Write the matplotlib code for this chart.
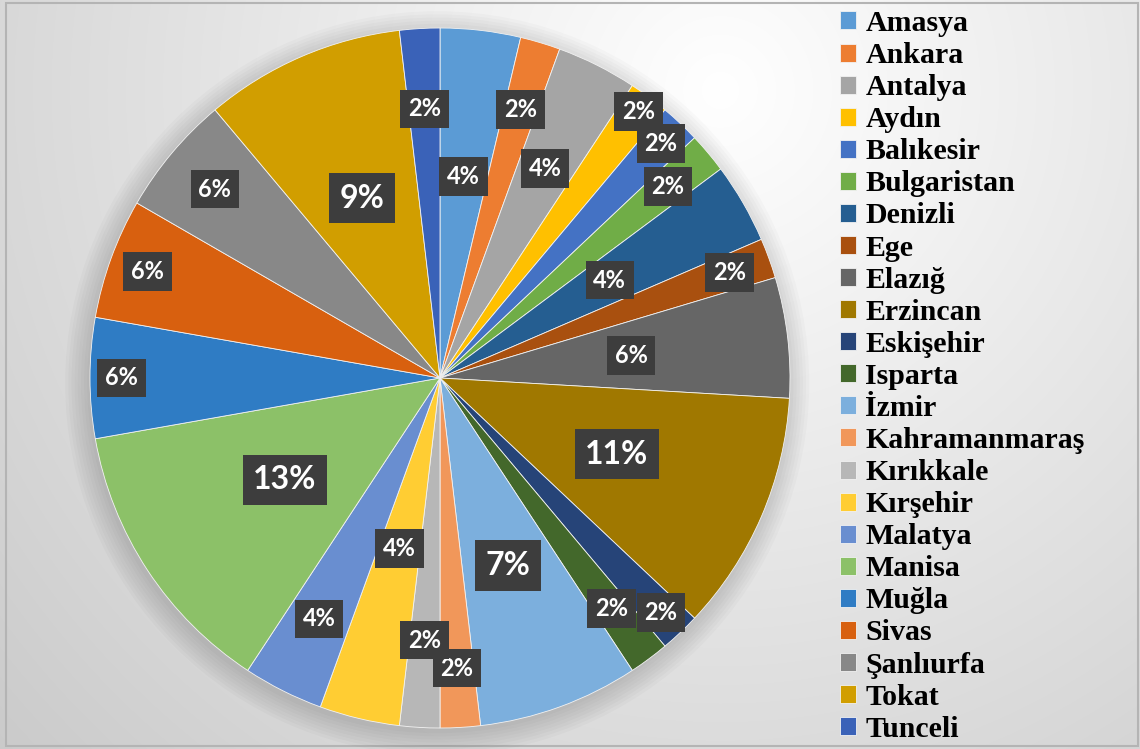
import numpy as np
import matplotlib.pyplot as plt
from matplotlib.patches import Rectangle, Circle

# data (counts, total 54)
names = ['Amasya', 'Ankara', 'Antalya', 'Aydın', 'Balıkesir', 'Bulgaristan',
         'Denizli', 'Ege', 'Elazığ', 'Erzincan', 'Eskişehir', 'Isparta',
         'İzmir', 'Kahramanmaraş', 'Kırıkkale', 'Kırşehir', 'Malatya',
         'Manisa', 'Muğla', 'Sivas', 'Şanlıurfa', 'Tokat', 'Tunceli']
counts = [2, 1, 2, 1, 1, 1, 2, 1, 3, 6, 1, 1, 4, 1, 1, 2, 2, 7, 3, 3, 3, 5, 1]

colors = ['#5B9BD5', '#ED7D31', '#A5A5A5', '#FFC000', '#4472C4', '#70AD47',
          '#255E91', '#A9500F', '#666666', '#A07800', '#264478', '#43682B',
          '#7CAFDD', '#F1975A', '#B7B7B7', '#FFCD33', '#698ED0', '#8CC168',
          '#2F7CC4', '#D8600F', '#888888', '#D19E00', '#3A62B8']

# where each % label sits, as fraction of the radius
lab_r = [0.58, 0.80, 0.67, 0.95, 0.92, 0.85, 0.56, 0.88, 0.55, 0.55, 0.92, 0.82,
         0.57, 0.83, 0.75, 0.50, 0.77, 0.53, 0.91, 0.89, 0.84, 0.56, 0.77]

W, H = 1140, 749
fig = plt.figure(figsize=(W / 100, H / 100), dpi=100)

# background radial gradient
bg = fig.add_axes([0, 0, 1, 1])
yy, xx = np.mgrid[0:H, 0:W]
d = np.hypot(xx - 720, yy - 90)
g = np.clip(1 - 0.19 * d / 900, 0, 1)
bg.imshow(np.dstack([g, g, g]), extent=[0, W, H, 0], aspect='auto')
bg.set_xlim(0, W)
bg.set_ylim(H, 0)
bg.axis('off')
bg.add_patch(Rectangle((6, 3), W - 8, H - 6, fill=False, ec='#b4b4b4', lw=1.5))

cx, cy, R = 440, 378, 350
ax = fig.add_axes([(cx - R) / W, (H - cy - R) / H, 2 * R / W, 2 * R / H])

# soft shadow under the pie
for k in range(8):
    ax.add_patch(Circle((-0.008, -0.015), 1.0 + 0.009 * k, color='black',
                        alpha=0.02, lw=0, zorder=0, clip_on=False))

wedges, _ = ax.pie(counts, colors=colors, startangle=90, counterclock=False,
                   radius=1, wedgeprops=dict(edgecolor='#f2f2f2', linewidth=0.6))
ax.set_xlim(-1, 1)
ax.set_ylim(-1, 1)
ax.set_aspect('equal')
ax.axis('off')

total = sum(counts)
for w, c, r in zip(wedges, counts, lab_r):
    a = np.deg2rad((w.theta1 + w.theta2) / 2)
    pct = '%d%%' % round(100 * c / total)
    big = c >= 4
    ax.text(r * np.cos(a), r * np.sin(a), pct, ha='center', va='center',
            color='white', fontsize=23 if big else 17, fontweight='bold',
            family=['Lato', 'DejaVu Sans'], zorder=5,
            bbox=dict(boxstyle='square,pad=0.33', fc='#3d3d3d', ec='none'))

leg = ax.legend(wedges, names, loc='upper left',
                bbox_to_anchor=(840 / W, 1 - 10 / H), bbox_transform=fig.transFigure,
                frameon=False, prop=dict(family='Liberation Serif', weight='bold', size=21.5),
                handlelength=0.55, handleheight=0.55, handletextpad=0.3,
                labelspacing=0.17, borderaxespad=0, borderpad=0)

plt.savefig('out.png', dpi=100)
